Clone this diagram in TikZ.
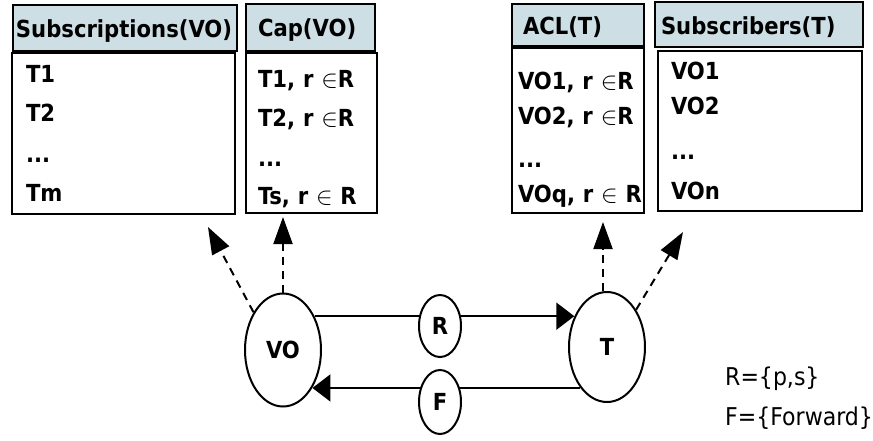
\documentclass[tikz,border=0pt]{standalone}
\usepackage{fontspec}
\setmainfont{DejaVu Sans Condensed}
\usetikzlibrary{shapes.geometric, arrows.meta}
\usepackage{xcolor}
\definecolor{headblue}{RGB}{205,222,228}

\begin{document}
\begin{tikzpicture}[
    x=1pt, y=-1pt,
    every node/.style={font=\fontsize{23.5}{39}\selectfont\bfseries},
    headbox/.style={draw, line width=2pt, fill=headblue, anchor=north west, align=left, inner ysep=0pt, text height=23pt},
    listbox/.style={draw, line width=2pt, anchor=north west, align=left, inner ysep=0pt},
    party/.style={draw, ellipse, line width=2pt, fill=white, inner sep=0pt},
    sendarrow/.style={line width=2pt, -{Triangle[length=18pt, width=27pt]}},
    refarrow/.style={line width=2pt, dash pattern=on 8pt off 6pt, -{Triangle[length=27pt, width=19pt]}},
]
\useasboundingbox (0,0) rectangle (873,440);

\node[headbox, minimum height=46pt, inner xsep=3pt, text width=218pt] (subhead) at (12,4) {Subscriptions(VO)};
\node[listbox, minimum height=161pt, inner xsep=14pt, text width=195pt] (subbody) at (11,52) {T1\\T2\\[2pt]...\\Tm};
\node[headbox, minimum height=47pt, inner xsep=12pt, text width=105pt] (caphead) at (245,3) {Cap(VO)};
\node[listbox, minimum height=160pt, inner xsep=12pt, text width=107pt] (capbody) at (245,52)
    {\rule{0pt}{30pt}\mbox{T1, r $\in$R}\\\mbox{T2, r $\in$R}\\[1pt]...\\[-1pt]\mbox{Ts, r $\in$ R}};
\node[headbox, minimum height=42pt, inner xsep=11pt, text width=110pt] (aclhead) at (511,3) {ACL(T)};
\node[listbox, minimum height=165pt, inner xsep=6pt, text width=120pt] (aclbody) at (511,47)
    {\rule{0pt}{36pt}\mbox{VO1, r $\in$R}\\[-4pt]\mbox{VO2, r $\in$R}\\[4pt]...\\[-4pt]\mbox{VOq, r $\in$ R}};
\node[headbox, minimum height=45pt, inner xsep=6pt, text width=196pt] (subrhead) at (654,1) {Subscribers(T)};
\node[listbox, minimum height=160pt, inner xsep=13pt, text width=178pt] (subrbody) at (657,50) {VO1\\[-4pt]VO2\\[6pt]...\\[1pt]VOn};

\node[party, minimum width=76pt, minimum height=113pt] (vo) at (283,350) {VO};
\node[party, minimum width=76pt, minimum height=110pt] (t) at (607,347) {T};

\draw[sendarrow] (vo.47) -- (vo.47 -| t.137);
\draw[sendarrow] (t.237) -- (t.237 -| vo.308);
\node[party, minimum width=42pt, minimum height=62pt] (r) at (440,326) {R};
\node[party, minimum width=42pt, minimum height=64pt] (f) at (440,402) {F};

\coordinate (subtip) at (208,227);
\coordinate (captip) at (283,217);
\coordinate (acltip) at (603,222);
\coordinate (subrtip) at (683,232);
\draw[refarrow] (vo.128) -- (subtip);
\draw[refarrow] (vo.north -| captip) -- (captip);
\draw[refarrow] (t.north -| acltip) -- (acltip);
\draw[refarrow] (t.52) -- (subrtip);

\node[anchor=west, font=\fontsize{24.5}{40}\selectfont, align=left, inner sep=0pt] (legend) at (725,398) {R=\{p,s\}\\F=\{Forward\}};

\end{tikzpicture}
\end{document}
